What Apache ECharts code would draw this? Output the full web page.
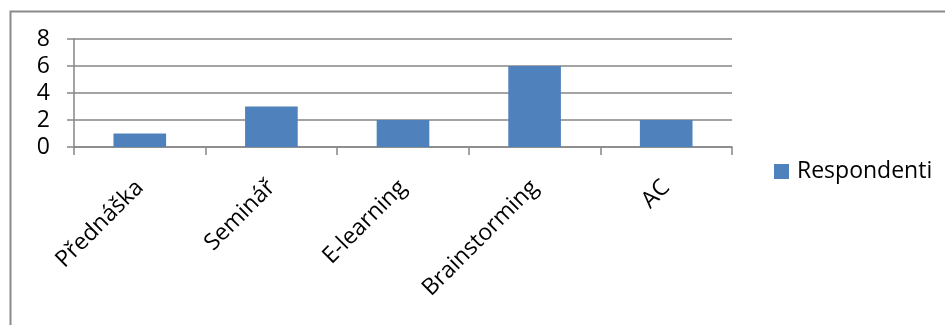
<!DOCTYPE html>
<html><head><meta charset="utf-8">
<script src="https://cdn.jsdelivr.net/npm/echarts@6/dist/echarts.min.js"></script>
<style>html,body{margin:0;padding:0;background:#fff}#c{width:945px;height:325px}</style>
</head><body><div id="c"></div>
<script>
const categories = ['Přednáška', 'Seminář', 'E-learning', 'Brainstorming', 'AC'];
const respondenti = [1, 3, 2, 6, 2];
const seriesName = 'Respondenti';
const yTicks = [0, 2, 4, 6, 8];

const chart = echarts.init(document.getElementById('c'), null, {renderer: 'canvas'});
const FONT = '"Open Sans", sans-serif';
chart.setOption({
  animation: false,
  backgroundColor: '#fff',
  graphic: [{
    type: 'rect', left: 8, top: 9, shape: {width: 1000, height: 400},
    style: {fill: 'none', stroke: '#8a8a8a', lineWidth: 2}, silent: true
  }],
  grid: {left: 74, right: 213, top: 39, bottom: 178, containLabel: false},
  legend: {
    data: [seriesName], left: 774, top: 160, orient: 'vertical', padding: 0,
    itemWidth: 15, itemHeight: 15, itemGap: 8, icon: 'rect',
    textStyle: {fontFamily: FONT, fontSize: 23, color: '#000', padding: [0, 0, 0, 3]}
  },
  xAxis: {
    type: 'category', data: categories,
    axisLine: {lineStyle: {color: '#868686', width: 1.5}},
    axisTick: {show: true, length: 8, alignWithLabel: false, lineStyle: {color: '#868686', width: 1.5}},
    axisLabel: {rotate: 45, margin: 37, fontFamily: FONT, fontSize: 23, color: '#000', interval: 0}
  },
  yAxis: {
    type: 'value', min: yTicks[0], max: yTicks[yTicks.length - 1], interval: 2,
    axisLine: {show: true, lineStyle: {color: '#868686', width: 1.5}},
    axisTick: {show: true, length: 7, lineStyle: {color: '#868686', width: 1.5}},
    splitLine: {show: true, lineStyle: {color: '#868686', width: 1.5}},
    axisLabel: {margin: 24, fontFamily: FONT, fontSize: 23, color: '#000'}
  },
  series: [{
    name: seriesName, type: 'bar', data: respondenti, barWidth: '40%',
    itemStyle: {color: '#4F81BD'}
  }]
});
</script></body></html>
